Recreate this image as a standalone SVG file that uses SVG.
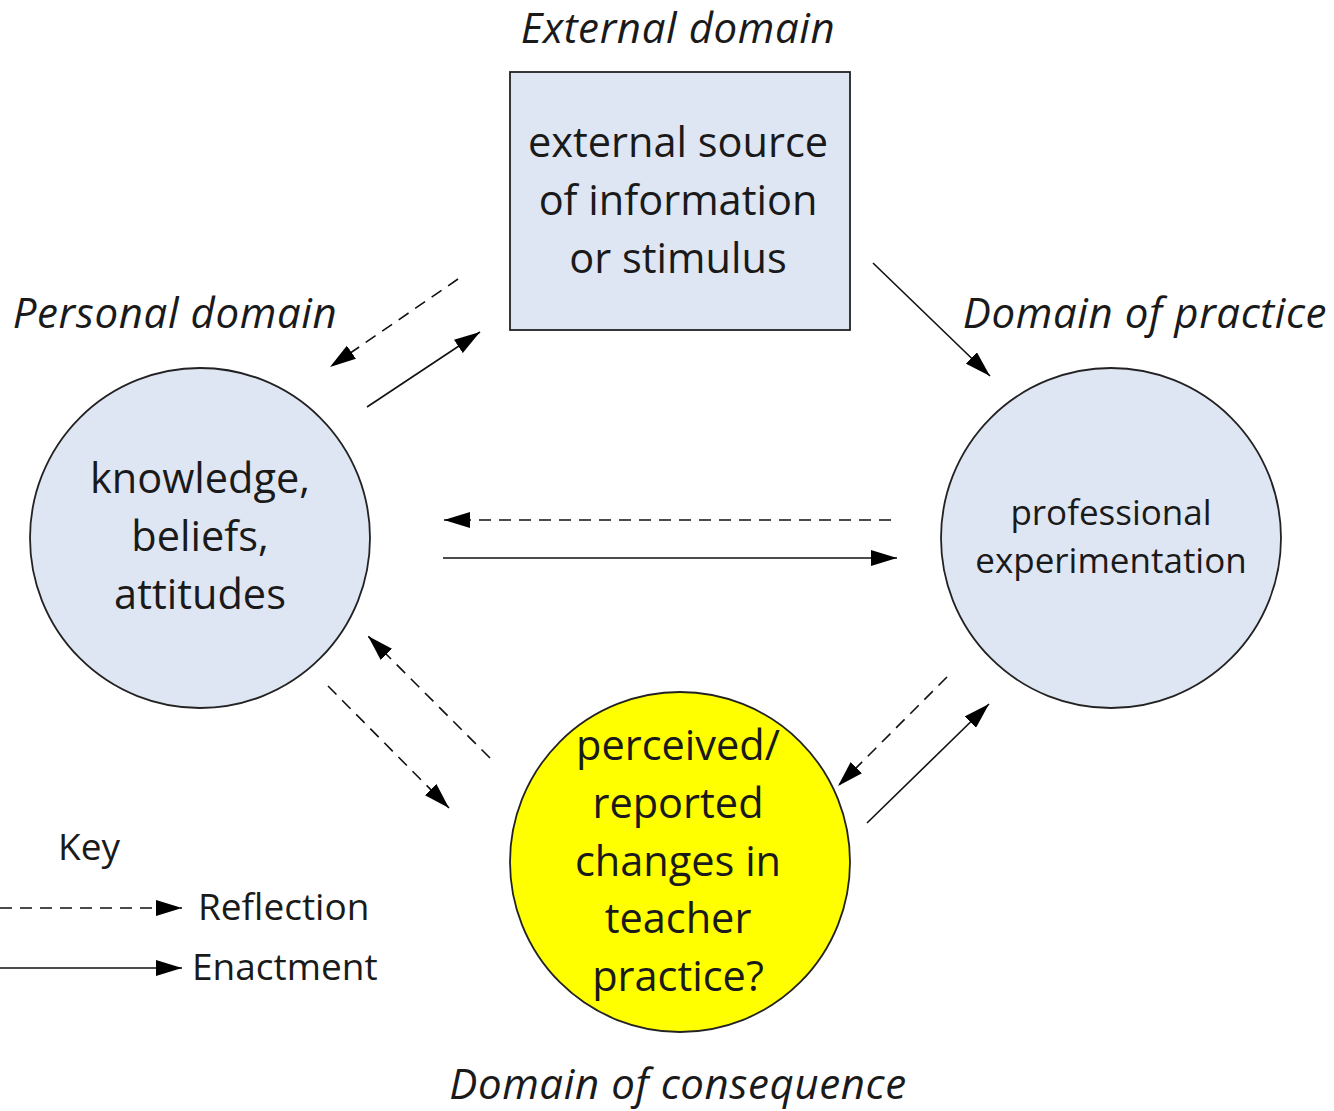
<svg xmlns="http://www.w3.org/2000/svg" width="1334" height="1111" viewBox="0 0 1334 1111">
<style>
text{font-family:"Open Sans",Lato,"Liberation Sans",sans-serif;fill:#1a1a1a;text-anchor:middle}
.t{font-size:41.5px}
.s{font-size:35px}
.i{font-size:42px;font-style:italic;letter-spacing:0.6px}
.k{font-size:37px;text-anchor:start}
.node{stroke:#222;stroke-width:1.8}
.blue{fill:#dfe6f3}
.yel{fill:#ffff00}
.c{stroke:#111;stroke-width:1.6;fill:none}
.d{stroke-dasharray:12 8}
</style>
<defs>
<marker id="ah" viewBox="0 0 26 16" refX="26" refY="8" markerWidth="26" markerHeight="16" markerUnits="userSpaceOnUse" orient="auto">
<path d="M0,0 L26,8 L0,16 Z" fill="#000"/>
</marker>
</defs>
<rect width="1334" height="1111" fill="#fff"/>
<text class="i" x="678" y="43">External domain</text>
<text class="i" x="175" y="328">Personal domain</text>
<text class="i" x="1145" y="328">Domain of practice</text>
<text class="i" x="678" y="1099">Domain of consequence</text>
<g id="external">
<rect class="node blue" x="510" y="72" width="340" height="258"/>
<text class="t" x="678" y="157">external source</text>
<text class="t" x="678" y="215">of information</text>
<text class="t" x="678" y="273">or stimulus</text>
</g>
<g id="personal">
<circle class="node blue" cx="200" cy="538" r="170"/>
<text class="t" x="200" y="493">knowledge,</text>
<text class="t" x="200" y="551">beliefs,</text>
<text class="t" x="200" y="609">attitudes</text>
</g>
<g id="practice">
<circle class="node blue" cx="1111" cy="538" r="170"/>
<text class="s" x="1111" y="525">professional</text>
<text class="s" x="1111" y="573">experimentation</text>
</g>
<g id="consequence">
<circle class="node yel" cx="680" cy="862" r="170"/>
<text class="t" x="678" y="760">perceived/</text>
<text class="t" x="678" y="818">reported</text>
<text class="t" x="678" y="876">changes in</text>
<text class="t" x="678" y="933">teacher</text>
<text class="t" x="678" y="991">practice?</text>
</g>
<g id="connectors">
<line class="c d" x1="458" y1="279" x2="330" y2="367" marker-end="url(#ah)"/>
<line class="c" x1="367" y1="407" x2="480" y2="332" marker-end="url(#ah)"/>
<line class="c" x1="873" y1="263" x2="990" y2="376" marker-end="url(#ah)"/>
<line class="c d" x1="891" y1="520" x2="444" y2="520" marker-end="url(#ah)"/>
<line class="c" x1="443" y1="558" x2="897" y2="558" marker-end="url(#ah)"/>
<line class="c d" x1="490" y1="758" x2="368" y2="636" marker-end="url(#ah)"/>
<line class="c d" x1="328" y1="686" x2="449" y2="808" marker-end="url(#ah)"/>
<line class="c d" x1="947" y1="677" x2="838" y2="786" marker-end="url(#ah)"/>
<line class="c" x1="867" y1="823" x2="989" y2="704" marker-end="url(#ah)"/>
</g>
<g id="key">
<text class="k" x="58" y="860">Key</text>
<line class="c d" x1="0" y1="908" x2="182" y2="908" marker-end="url(#ah)"/>
<line class="c" x1="0" y1="968" x2="182" y2="968" marker-end="url(#ah)"/>
<text class="k" x="198" y="920">Reflection</text>
<text class="k" x="192" y="980">Enactment</text>
</g>
</svg>
